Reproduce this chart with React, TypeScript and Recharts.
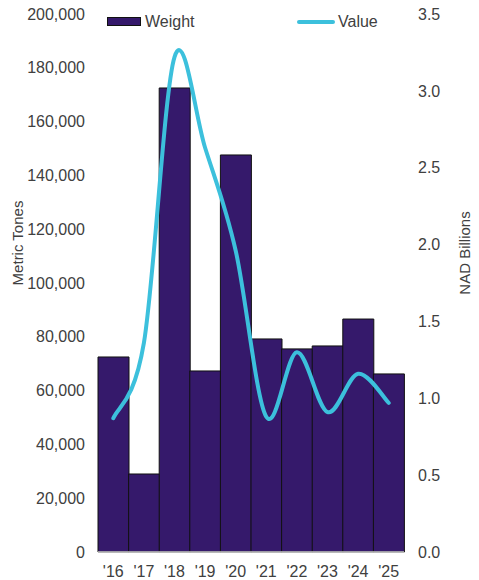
import React from 'react';
import {
  Bar,
  ComposedChart,
  Line,
  XAxis,
  YAxis,
} from 'recharts';

const years = ["'16", "'17", "'18", "'19", "'20", "'21", "'22", "'23", "'24", "'25"];
const weight = [72500, 29000, 172500, 67300, 147600, 79200, 75500, 76600, 86600, 66200];
const value = [0.87, 1.36, 3.22, 2.63, 1.96, 0.88, 1.3, 0.91, 1.16, 0.97];
const leftTicks = [0, 20000, 40000, 60000, 80000, 100000, 120000, 140000, 160000, 180000, 200000];
const rightTicks = [0, 0.5, 1, 1.5, 2, 2.5, 3, 3.5];

const data = years.map((year, i) => ({ year, weight: weight[i], value: value[i] }));

const PURPLE = '#35196b';
const CYAN = '#3cc0dc';
const TEXT = '#404040';
const FONT = '"Liberation Sans", Arial, sans-serif';

// smooth line like Excel's (Catmull-Rom through the points)
function curveSmooth(context: any) {
  let pts: number[][] = [];
  return {
    areaStart() {},
    areaEnd() {},
    lineStart() {
      pts = [];
    },
    lineEnd() {
      if (!pts.length) return;
      context.moveTo(pts[0][0], pts[0][1]);
      for (let i = 0; i < pts.length - 1; i++) {
        const p0 = pts[i - 1] || pts[i];
        const p1 = pts[i];
        const p2 = pts[i + 1];
        const p3 = pts[i + 2] || p2;
        context.bezierCurveTo(
          p1[0] + (p2[0] - p0[0]) / 6,
          p1[1] + (p2[1] - p0[1]) / 6,
          p2[0] - (p3[0] - p1[0]) / 6,
          p2[1] - (p3[1] - p1[1]) / 6,
          p2[0],
          p2[1],
        );
      }
    },
    point(x: number, y: number) {
      pts.push([+x, +y]);
    },
  };
}

function ChartLegend() {
  return (
    <div
      style={{
        position: 'absolute',
        left: 0,
        top: 0,
        width: 479,
        height: 40,
        fontFamily: FONT,
        fontSize: 16,
        color: TEXT,
        pointerEvents: 'none',
      }}
    >
      <div
        style={{
          position: 'absolute',
          left: 107,
          top: 17,
          width: 34,
          height: 9,
          background: PURPLE,
          border: '1px solid #111',
          boxSizing: 'border-box',
        }}
      />
      <div style={{ position: 'absolute', left: 145, top: 13, lineHeight: '18px' }}>Weight</div>
      <div
        style={{
          position: 'absolute',
          left: 297,
          top: 20,
          width: 38,
          height: 4,
          borderRadius: 2,
          background: CYAN,
        }}
      />
      <div style={{ position: 'absolute', left: 338, top: 13, lineHeight: '18px' }}>Value</div>
    </div>
  );
}

const tickStyle = { fill: TEXT, fontSize: 16, fontFamily: FONT };

export default function App() {
  return (
    <div style={{ position: 'absolute', left: 0, top: 0, width: 479, height: 580, background: '#fff' }}>
      <ComposedChart
        width={479}
        height={580}
        data={data}
        barCategoryGap={0}
        margin={{ top: 14, right: 0, left: 0, bottom: 0 }}
      >
        <XAxis
          dataKey="year"
          height={28}
          tick={tickStyle}
          tickLine={false}
          axisLine={{ stroke: '#c8c8c8', strokeWidth: 1.5 }}
          tickMargin={8}
        />
        <YAxis
          yAxisId="left"
          width={98}
          domain={[0, 200000]}
          ticks={leftTicks}
          tickFormatter={(v: number) => v.toLocaleString('en-US')}
          tick={tickStyle}
          tickLine={false}
          tickSize={0}
          tickMargin={13}
          axisLine={false}
          label={{
            content: () => (
              <text
                x={23}
                y={243}
                transform="rotate(-90 23 243)"
                textAnchor="middle"
                fill={TEXT}
                fontSize={15}
                fontFamily={FONT}
              >
                Metric Tones
              </text>
            ),
          }}
        />
        <YAxis
          yAxisId="right"
          orientation="right"
          width={75}
          domain={[0, 3.5]}
          ticks={rightTicks}
          tickFormatter={(v: number) => v.toFixed(1)}
          tick={{ ...tickStyle, textAnchor: 'start' }}
          tickLine={false}
          tickSize={0}
          tickMargin={14}
          axisLine={false}
          label={{
            content: () => (
              <text
                x={470}
                y={253}
                transform="rotate(-90 470 253)"
                textAnchor="middle"
                fill={TEXT}
                fontSize={15}
                fontFamily={FONT}
              >
                NAD Billions
              </text>
            ),
          }}
        />
        <Bar
          yAxisId="left"
          dataKey="weight"
          name="Weight"
          fill={PURPLE}
          stroke="#111"
          strokeWidth={1}
          isAnimationActive={false}
        />
        <Line
          yAxisId="right"
          dataKey="value"
          name="Value"
          type={curveSmooth as any}
          stroke={CYAN}
          strokeWidth={4}
          strokeLinecap="round"
          dot={false}
          activeDot={false}
          isAnimationActive={false}
        />
      </ComposedChart>
      <ChartLegend />
    </div>
  );
}
